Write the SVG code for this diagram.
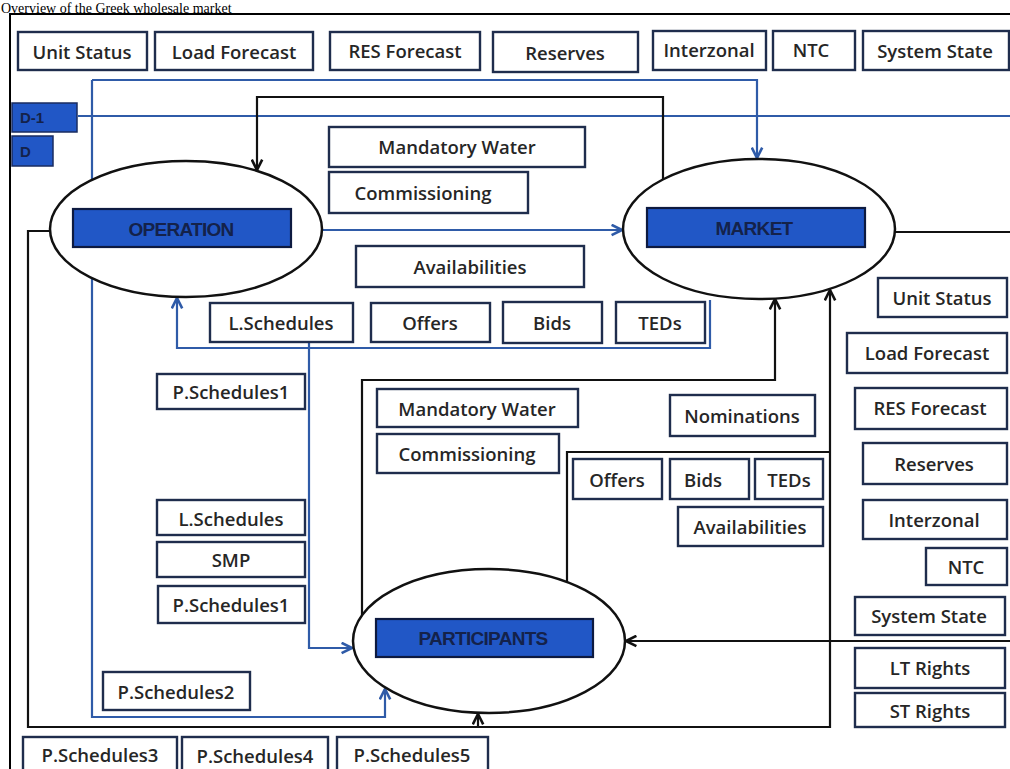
<svg xmlns="http://www.w3.org/2000/svg" width="1010" height="769" viewBox="0 0 1010 769">
<defs>
<style>
.bx rect{fill:#fff;stroke:#1f2d4d;stroke-width:2.4}
.bx text{font-family:"Open Sans","Liberation Sans",sans-serif;font-weight:600;font-size:18.5px;fill:#262626;text-anchor:middle;dominant-baseline:central}
.nd ellipse{fill:#fff;stroke:#111;stroke-width:2.5}
.nd rect{fill:#2157c6;stroke:#0d1a40;stroke-width:2.2}
.nd text{font-family:"Liberation Sans",sans-serif;font-weight:700;font-size:19px;fill:#14224a;text-anchor:middle;dominant-baseline:central;letter-spacing:-0.7px}
.day rect{fill:#2157c6;stroke:#1a2d60;stroke-width:1.5}
.day text{font-family:"Liberation Sans",sans-serif;font-weight:700;font-size:15px;fill:#14224a;dominant-baseline:central}
.bl{fill:none;stroke:#2f5ba8;stroke-width:2.2}
.bk{fill:none;stroke:#111;stroke-width:2.2}
</style>
<marker id="ab" viewBox="0 0 10 10" refX="9" refY="5" markerWidth="13" markerHeight="13" markerUnits="userSpaceOnUse" orient="auto-start-reverse"><path d="M1,1 L9,5 L1,9" fill="none" stroke="#2f5ba8" stroke-width="2"/></marker>
<marker id="ak" viewBox="0 0 10 10" refX="9" refY="5" markerWidth="13" markerHeight="13" markerUnits="userSpaceOnUse" orient="auto-start-reverse"><path d="M1,1 L9,5 L1,9" fill="none" stroke="#111" stroke-width="2"/></marker>
</defs>
<rect width="1010" height="769" fill="#fff"/>
<text x="1" y="12.5" font-family="Liberation Serif, serif" font-size="14" fill="#000">Overview of the Greek wholesale market</text>
<rect x="10" y="14" width="1010" height="770" fill="none" stroke="#000" stroke-width="2"/>

<g id="connectors">
<path class="bl" d="M92,80 L757,80 L757,158" marker-end="url(#ab)"/>
<path class="bl" d="M92,80 L92,717 L385,717 L385,689" marker-end="url(#ab)"/>
<path class="bl" d="M78,116 L1010,116"/>
<path class="bk" d="M663,182 L663,97 L257,97 L257,170" marker-end="url(#ak)"/>
<path class="bl" d="M322,230 L622,230" marker-end="url(#ab)"/>
<path class="bk" d="M895,232 L1010,232"/>
<path class="bk" d="M50,231 L28,231 L28,727 L830,727 L830,290" marker-end="url(#ak)"/>
<path class="bk" d="M478,727 L478,714" marker-end="url(#ak)"/>
<path class="bk" d="M362,615 L362,380 L775,380 L775,299" marker-end="url(#ak)"/>
<path class="bk" d="M567,582 L567,452 L830,452"/>
<path class="bk" d="M1010,641 L626,641" marker-end="url(#ak)"/>
<path class="bl" d="M710,300 L710,348 L177,348 L177,298" marker-end="url(#ab)"/>
<path class="bl" d="M309,342 L309,648 L352,648" marker-end="url(#ab)"/>
</g>

<g id="day-d1" class="day"><rect x="12" y="103" width="65" height="29"/><text x="20" y="117">D-1</text></g>
<g id="day-d" class="day"><rect x="12" y="136" width="41" height="30"/><text x="20" y="151">D</text></g>

<g id="operation" class="nd"><ellipse cx="186" cy="229" rx="136" ry="68"/><rect x="73" y="209" width="218" height="38"/><text x="181" y="229">OPERATION</text></g>
<g id="market" class="nd"><ellipse cx="759" cy="229" rx="136" ry="70"/><rect x="647" y="208" width="218" height="39"/><text x="754" y="228">MARKET</text></g>
<g id="participants" class="nd"><ellipse cx="489" cy="641" rx="136" ry="72"/><rect x="376" y="619" width="217" height="38"/><text x="483" y="638">PARTICIPANTS</text></g>

<g id="top-unit-status" class="bx"><rect x="18" y="32" width="129" height="38"/><text x="82" y="51">Unit Status</text></g>
<g id="top-load-forecast" class="bx"><rect x="155" y="32" width="158" height="38"/><text x="234" y="51">Load Forecast</text></g>
<g id="top-res-forecast" class="bx"><rect x="330" y="32" width="150" height="38"/><text x="405" y="50">RES Forecast</text></g>
<g id="top-reserves" class="bx"><rect x="493" y="32" width="145" height="40"/><text x="565" y="52">Reserves</text></g>
<g id="top-interzonal" class="bx"><rect x="653" y="31" width="113" height="39"/><text x="709" y="49">Interzonal</text></g>
<g id="top-ntc" class="bx"><rect x="773" y="31" width="82" height="39"/><text x="811" y="49">NTC</text></g>
<g id="top-system-state" class="bx"><rect x="863" y="31" width="146" height="39"/><text x="935" y="50">System State</text></g>

<g id="op-mandatory-water" class="bx"><rect x="329" y="127" width="256" height="40"/><text x="457" y="146">Mandatory Water</text></g>
<g id="op-commissioning" class="bx"><rect x="329" y="172" width="199" height="41"/><text x="423" y="192">Commissioning</text></g>
<g id="op-availabilities" class="bx"><rect x="356" y="246" width="228" height="41"/><text x="470" y="266">Availabilities</text></g>
<g id="op-lschedules" class="bx"><rect x="210" y="303" width="143" height="39"/><text x="281" y="322">L.Schedules</text></g>
<g id="op-offers" class="bx"><rect x="371" y="303" width="119" height="39"/><text x="430" y="322">Offers</text></g>
<g id="op-bids" class="bx"><rect x="503" y="302" width="99" height="41"/><text x="552" y="322">Bids</text></g>
<g id="op-teds" class="bx"><rect x="616" y="302" width="89" height="41"/><text x="660" y="322">TEDs</text></g>

<g id="l-pschedules1a" class="bx"><rect x="157" y="374" width="148" height="35"/><text x="231" y="391">P.Schedules1</text></g>
<g id="l-lschedules" class="bx"><rect x="157" y="500" width="148" height="35"/><text x="231" y="518">L.Schedules</text></g>
<g id="l-smp" class="bx"><rect x="157" y="542" width="148" height="35"/><text x="231" y="559">SMP</text></g>
<g id="l-pschedules1b" class="bx"><rect x="158" y="586" width="147" height="37"/><text x="231" y="604">P.Schedules1</text></g>
<g id="l-pschedules2" class="bx"><rect x="103" y="672" width="147" height="38"/><text x="176" y="691">P.Schedules2</text></g>
<g id="b-pschedules3" class="bx"><rect x="23" y="737" width="154" height="40"/><text x="100" y="754">P.Schedules3</text></g>
<g id="b-pschedules4" class="bx"><rect x="182" y="737" width="146" height="40"/><text x="255" y="755">P.Schedules4</text></g>
<g id="b-pschedules5" class="bx"><rect x="337" y="737" width="151" height="40"/><text x="412" y="754">P.Schedules5</text></g>

<g id="p-mandatory-water" class="bx"><rect x="377" y="389" width="201" height="38"/><text x="477" y="408">Mandatory Water</text></g>
<g id="p-commissioning" class="bx"><rect x="377" y="434" width="182" height="39"/><text x="467" y="453">Commissioning</text></g>
<g id="p-nominations" class="bx"><rect x="670" y="395" width="145" height="41"/><text x="742" y="415">Nominations</text></g>
<g id="p-offers" class="bx"><rect x="573" y="459" width="89" height="40"/><text x="617" y="479">Offers</text></g>
<g id="p-bids" class="bx"><rect x="670" y="459" width="79" height="40"/><text x="703" y="479">Bids</text></g>
<g id="p-teds" class="bx"><rect x="755" y="459" width="68" height="40"/><text x="789" y="479">TEDs</text></g>
<g id="p-availabilities" class="bx"><rect x="678" y="507" width="145" height="39"/><text x="750" y="526">Availabilities</text></g>

<g id="r-unit-status" class="bx"><rect x="878" y="278" width="129" height="39"/><text x="942" y="297">Unit Status</text></g>
<g id="r-load-forecast" class="bx"><rect x="847" y="333" width="160" height="40"/><text x="927" y="352">Load Forecast</text></g>
<g id="r-res-forecast" class="bx"><rect x="855" y="388" width="152" height="41"/><text x="930" y="407">RES Forecast</text></g>
<g id="r-reserves" class="bx"><rect x="863" y="443" width="144" height="41"/><text x="934" y="463">Reserves</text></g>
<g id="r-interzonal" class="bx"><rect x="863" y="500" width="144" height="39"/><text x="934" y="519">Interzonal</text></g>
<g id="r-ntc" class="bx"><rect x="926" y="548" width="81" height="37"/><text x="966" y="566">NTC</text></g>
<g id="r-system-state" class="bx"><rect x="855" y="597" width="150" height="38"/><text x="929" y="615">System State</text></g>
<g id="r-lt-rights" class="bx"><rect x="855" y="648" width="150" height="40"/><text x="930" y="667">LT Rights</text></g>
<g id="r-st-rights" class="bx"><rect x="855" y="693" width="150" height="34"/><text x="930" y="710">ST Rights</text></g>
</svg>
